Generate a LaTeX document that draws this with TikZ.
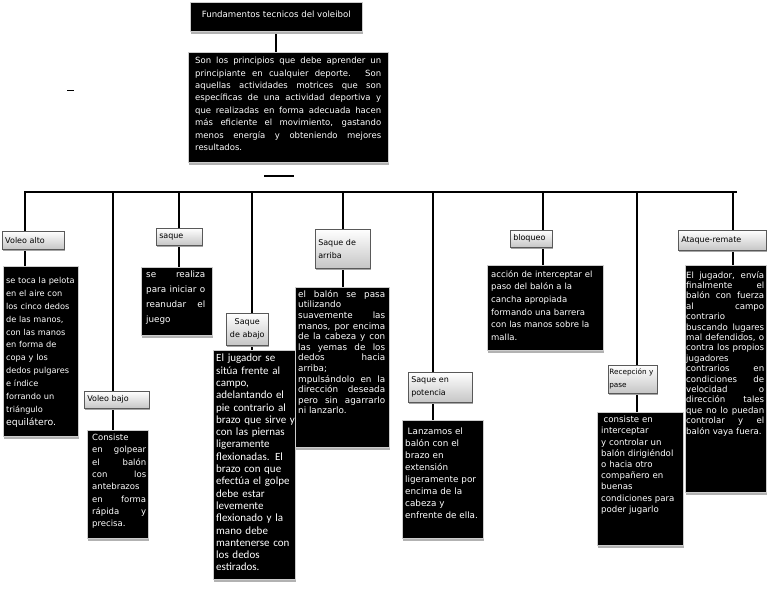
\documentclass[tikz,border=0pt]{standalone}
\usepackage{fontspec}
\setmainfont{DejaVu Sans}
\newfontfamily\calib{Carlito}
\usetikzlibrary{shadows,calc}
\pgfdeclarelayer{bg}
\pgfsetlayers{bg,main}
\begin{document}
\begin{tikzpicture}[x=1pt,y=-1pt,
  blk/.style={fill=black, draw=gray!40, line width=0.6pt, inner sep=0pt, anchor=north west,
    drop shadow={shadow xshift=1pt, shadow yshift=-2.5pt, fill=black!30, opacity=1}},
  btxt/.style={text=white, inner sep=0pt, anchor=north west, align=justify,
    execute at begin node={\tolerance=10000\hyphenpenalty=10000\hbadness=10000}},
  rtxt/.style={btxt, align=left},
  lab/.style={draw=black!65, line width=0.5pt, top color=white, bottom color=gray!45,
    drop shadow={shadow xshift=1.2pt, shadow yshift=-1.5pt, fill=black!35, opacity=1},
    inner xsep=3pt, inner ysep=0pt, anchor=north west, align=left,
    font=\fontsize{8}{13}\selectfont},
  conn/.style={line width=2.6pt, black, line cap=rect},
]
\useasboundingbox (0,0) rectangle (768,594);

% title and description
\node[blk, minimum width=172, minimum height=29] (title) at (190,2) {};
\node[text=white, inner sep=0pt, font=\fontsize{8.6}{10}\selectfont] (titlet) at ([yshift=2.5pt]title.center) {Fundamentos tecnicos del voleibol};
\node[blk, minimum width=200, minimum height=110] (desc) at (188,52) {};
\node[btxt, text width=186, font=\fontsize{8.5}{12.4}\selectfont] (desct) at ([xshift=7pt,yshift=-5pt]desc.north west)
{Son los principios que debe aprender un\linebreak principiante en cualquier deporte. Son\linebreak aquellas actividades motrices que son\linebreak específicas de una actividad deportiva y\linebreak que realizadas en forma adecuada hacen\linebreak más eficiente el movimiento, gastando\linebreak menos energía y obteniendo mejores\linebreak resultados.};

% bus coordinates
\coordinate (v1) at (25,192);
\coordinate (v2) at (113,192);
\coordinate (v3) at (179,192);
\coordinate (v4) at (252,192);
\coordinate (v5) at (343,192);
\coordinate (v6) at (433,192);
\coordinate (v7) at (543,192);
\coordinate (v8) at (637,192);
\coordinate (v9) at (733,192);
\coordinate (vend) at (736,192);

% labels
\node[lab, text width=56, minimum height=18] (l1) at (2,231) {Voleo alto};
\node[lab, text width=59, minimum height=17] (l2) at (84,391) {Voleo bajo};
\node[lab, text width=40, minimum height=17] (l3) at (156,228) {saque};
\node[lab, text width=38, inner xsep=2pt, minimum height=32, align=center] (l4) at (226,313) {Saque\\de abajo};
\node[lab, text width=49, minimum height=39] (l5) at (315,229) {Saque de\\arriba};
\node[lab, text width=58, minimum height=30] (l6) at (408,372) {Saque en\\potencia};
\node[lab, text width=36, minimum height=17] (l7) at (510,230) {bloqueo};
\node[lab, text width=47, inner xsep=1pt, minimum height=28, font=\fontsize{7.3}{13}\selectfont] (l8) at (608,365) {Recepción y\\pase};
\node[lab, text width=82, minimum height=20] (l9) at (678,230) {Ataque-remate};

% black boxes
\node[blk, minimum width=75, minimum height=170] (b1) at (3,266) {};
\node[blk, minimum width=61, minimum height=108] (b2) at (87,430) {};
\node[blk, minimum width=71, minimum height=68] (b3) at (141,267) {};
\node[blk, minimum width=82, minimum height=229] (b4) at (213,350) {};
\node[blk, minimum width=94, minimum height=160] (b5) at (295,287) {};
\node[blk, minimum width=81, minimum height=118] (b6) at (402,420) {};
\node[blk, minimum width=116, minimum height=85] (b7) at (487,265) {};
\node[blk, minimum width=86, minimum height=133] (b8) at (597,412) {};
\node[blk, minimum width=81, minimum height=227] (b9) at (685,265) {};

% texts
\node[rtxt, text width=73, font=\fontsize{8.2}{12.9}\selectfont] (b1t) at ([xshift=3pt,yshift=-11pt]b1.north west)
{se toca la pelota\\en el aire con\\los cinco dedos\\de las manos,\\con las manos\\en forma de\\copa y los\\dedos pulgares\\e índice\\forrando un\\triángulo\\{\fontsize{9.3}{12.9}\selectfont equilátero.}};

\node[btxt, text width=54, font=\fontsize{8.5}{12.3}\selectfont] (b2t) at ([xshift=5pt,yshift=-4pt]b2.north west)
{Consiste\newline en golpear\linebreak el balón\linebreak con los\linebreak antebrazos\newline en forma\linebreak rápida y\linebreak precisa.};

\node[btxt, text width=59, font=\fontsize{8.8}{15}\selectfont] (b3t) at ([xshift=5pt,yshift=-4pt]b3.north west)
{se realiza\linebreak para iniciar o\linebreak reanudar el\linebreak juego};

\node[rtxt, text width=79, font=\calib\fontsize{11}{12.3}\selectfont] (b4t) at ([xshift=3pt,yshift=-4pt]b4.north west)
{El jugador se\\sitúa frente al\\campo,\\adelantando el\\pie contrario al\\brazo que sirve y\\con las piernas\\ligeramente\\flexionadas. El\\brazo con que\\efectúa el golpe\\debe estar\\levemente\\flexionado y la\\mano debe\\mantenerse con\\los dedos\\estirados.};

\node[btxt, text width=87, font=\fontsize{8.8}{10.6}\selectfont] (b5t) at ([xshift=3pt,yshift=-3pt]b5.north west)
{el balón se pasa\linebreak utilizando\newline suavemente las\linebreak manos, por encima\linebreak de la cabeza y con\linebreak las yemas de los\linebreak dedos hacia\linebreak arriba;\newline mpulsándolo en la\linebreak dirección deseada\linebreak pero sin agarrarlo\linebreak ni lanzarlo.};

\node[rtxt, text width=76, font=\fontsize{8.8}{12}\selectfont] (b6t) at ([xshift=3pt,yshift=-8pt]b6.north west)
{\hspace*{2.5pt}Lanzamos el\\balón con el\\brazo en\\extensión\\ligeramente por\\encima de la\\cabeza y\\enfrente de ella.};

\node[rtxt, text width=108, font=\fontsize{8.5}{12.7}\selectfont] (b7t) at ([xshift=4pt,yshift=-5pt]b7.north west)
{acción de interceptar el\\paso del balón a la\\cancha apropiada\\formando una barrera\\con las manos sobre la\\malla.};

\node[rtxt, text width=80, font=\fontsize{8.6}{11.2}\selectfont] (b8t) at ([xshift=4pt,yshift=-4pt]b8.north west)
{\hspace*{2.5pt}consiste en\\interceptar\\y controlar un\\balón dirigiéndol\\o hacia otro\\compañero en\\buenas\\condiciones para\\poder jugarlo};

\node[btxt, text width=78, font=\fontsize{8.6}{10.4}\selectfont] (b9t) at ([xshift=1pt,yshift=-6pt]b9.north west)
{El jugador, envía\linebreak finalmente el\linebreak balón con fuerza\linebreak al campo\linebreak contrario\newline buscando lugares\linebreak mal defendidos, o\linebreak contra los propios\linebreak jugadores\newline contrarios en\linebreak condiciones de\linebreak velocidad o\linebreak dirección tales\linebreak que no lo puedan\linebreak controlar y el\linebreak balón vaya fuera.};

% connectors
\begin{pgfonlayer}{bg}
\draw[line width=2pt] (title.south) -- (title.south |- desc.north);
\draw[conn] (v1) -- (vend);
\draw[conn] (v1) -- (v1 |- b1.north);
\draw[conn] (v2) -- (v2 |- b2.north);
\draw[conn] (v3) -- (v3 |- b3.north);
\draw[conn] (v4) -- (v4 |- b4.north);
\draw[conn] (v5) -- (v5 |- b5.north);
\draw[conn] (v6) -- (v6 |- b6.north);
\draw[conn] (v7) -- (v7 |- b7.north);
\draw[conn] (v8) -- (v8 |- b8.north);
\draw[conn] (v9) -- (v9 |- b9.north);
\end{pgfonlayer}

% stray marks
\coordinate (dA) at (264,176);
\coordinate (dB) at (294,176);
\draw[line width=2.6pt] (dA) -- (dB);
\coordinate (sA) at (67,90);
\coordinate (sB) at (74,90);
\draw[line width=0.8pt] (sA) -- (sB);
\end{tikzpicture}
\end{document}
